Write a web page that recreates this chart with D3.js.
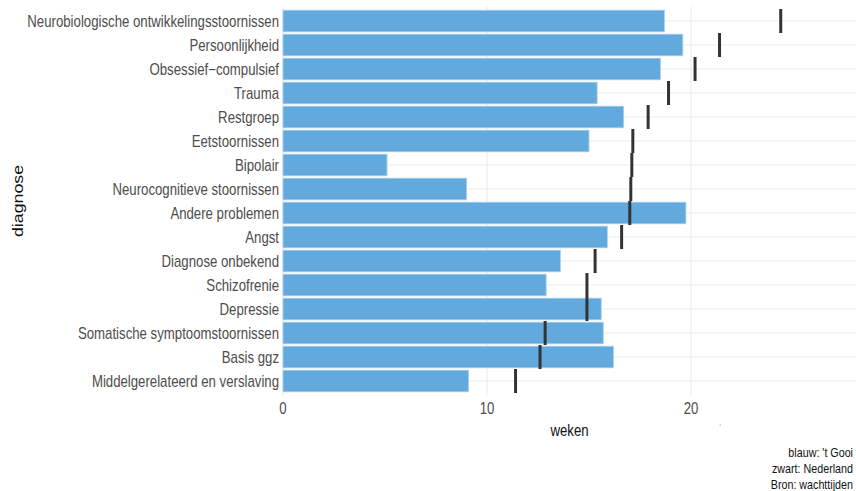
<!DOCTYPE html>
<html>
<head>
<meta charset="utf-8">
<script src="https://cdn.jsdelivr.net/npm/d3@7"></script>
<style>
  body { margin: 0; background: #fff; }
  text { font-family: "Liberation Sans", Arial, sans-serif; }
</style>
</head>
<body>
<svg width="856" height="491"></svg>
<script>
// categories, top to bottom
var diagnoses = ["Neurobiologische ontwikkelingsstoornissen", "Persoonlijkheid", "Obsessief\u2212compulsief",
  "Trauma", "Restgroep", "Eetstoornissen", "Bipolair", "Neurocognitieve stoornissen",
  "Andere problemen", "Angst", "Diagnose onbekend", "Schizofrenie", "Depressie",
  "Somatische symptoomstoornissen", "Basis ggz", "Middelgerelateerd en verslaving"];

// wachttijd in weken, blauw: 't Gooi
var gooi = [18.7, 19.6, 18.5, 15.4, 16.7, 15.0, 5.1, 9.0, 19.75, 15.9, 13.6, 12.9, 15.6, 15.7, 16.2, 9.1];
// zwart: Nederland
var nederland = [24.4, 21.4, 20.2, 18.9, 17.9, 17.15, 17.1, 17.05, 17.0, 16.6, 15.3, 14.9, 14.9, 12.85, 12.6, 11.4];

var xTicks = [0, 10, 20];
var captionLines = ["blauw: 't Gooi", "zwart: Nederland", "Bron: wachttijden"];

var data = diagnoses.map(function(d, i) {
  return {name: d, gooi: gooi[i], nl: nederland[i]};
});

var svg = d3.select("svg"),
    panel = {left: 283, right: 856, top: 6.6, bottom: 395.4};

var x = d3.scaleLinear().domain([0, 28.09]).range([panel.left, panel.right]);

// discrete scale, 0.6 step expansion at each end
var y = d3.scaleBand().domain(diagnoses)
    .range([panel.top, panel.bottom])
    .paddingOuter(0.1).paddingInner(0);
var step = y.step();

// gridlines
var grid = svg.append("g").attr("class", "grid");
grid.selectAll(".hgrid")
    .data(diagnoses)
    .enter().append("line")
    .attr("x1", panel.left).attr("x2", panel.right)
    .attr("y1", function(d) { return y(d) + step / 2; })
    .attr("y2", function(d) { return y(d) + step / 2; })
    .style("stroke", "#ebebeb").style("stroke-width", 1.1);
grid.selectAll(".vgrid")
    .data(xTicks)
    .enter().append("line")
    .attr("x1", function(d) { return x(d); }).attr("x2", function(d) { return x(d); })
    .attr("y1", panel.top).attr("y2", panel.bottom)
    .style("stroke", "#ebebeb").style("stroke-width", 1.1);

// bars 't Gooi
svg.append("g").selectAll("rect")
    .data(data)
    .enter().append("rect")
    .attr("x", x(0))
    .attr("y", function(d) { return y(d.name) + step * 0.05; })
    .attr("width", function(d) { return x(d.gooi) - x(0); })
    .attr("height", step * 0.9)
    .style("fill", "#62aadd")
    .style("stroke", "#a8d0ee")
    .style("stroke-width", 0.8);

// Nederland marks
svg.append("g").selectAll("line")
    .data(data)
    .enter().append("line")
    .attr("x1", function(d) { return x(d.nl); })
    .attr("x2", function(d) { return x(d.nl); })
    .attr("y1", function(d) { return y(d.name); })
    .attr("y2", function(d) { return y(d.name) + step; })
    .style("stroke", "#333333")
    .style("stroke-width", 3);

// no narrow font installed: squeeze the text horizontally
var narrow = 0.8;
function squeeze(sel, xf, yf) {
  sel.attr("transform", function(d, i) {
    return "translate(" + xf(d, i) + "," + yf(d, i) + ") scale(" + narrow + ",1)";
  });
}

// y axis labels
var ylab = svg.append("g").selectAll("text")
    .data(diagnoses)
    .enter().append("text")
    .attr("dy", "0.35em")
    .attr("text-anchor", "end")
    .style("font-size", "16px")
    .style("fill", "#4d4d4d")
    .text(function(d) { return d; });
// fit longest label to the reference width
var longest = d3.max(ylab.nodes(), function(n) { return n.getComputedTextLength(); });
narrow = 252 / longest;
squeeze(ylab, function() { return panel.left - 4; }, function(d) { return y(d) + step / 2; });

// x axis labels
var xlab = svg.append("g").selectAll("text")
    .data(xTicks)
    .enter().append("text")
    .attr("text-anchor", "middle")
    .style("font-size", "16px")
    .style("fill", "#4d4d4d")
    .text(function(d) { return d; });
squeeze(xlab, function(d) { return x(d); }, function() { return 414; });

// axis titles
svg.append("text")
    .attr("transform", "translate(" + ((panel.left + panel.right) / 2) + ",436) scale(" + narrow + ",1)")
    .attr("text-anchor", "middle")
    .style("font-size", "16px")
    .style("fill", "#111")
    .text("weken");

svg.append("text")
    .attr("transform", "translate(23," + ((panel.top + panel.bottom) / 2) + ") rotate(-90)")
    .attr("text-anchor", "middle")
    .attr("textLength", 72)
    .attr("lengthAdjust", "spacingAndGlyphs")
    .style("font-size", "15px")
    .style("fill", "#111")
    .text("diagnose");

// small leftover legend key
svg.append("text")
    .attr("x", 720).attr("y", 430)
    .attr("text-anchor", "middle")
    .style("font-size", "9px")
    .style("fill", "#bbb")
    .text("'");

// caption
var cap = svg.append("g").selectAll("text")
    .data(captionLines)
    .enter().append("text")
    .attr("text-anchor", "end")
    .style("font-size", "13px")
    .style("fill", "#111")
    .text(function(d) { return d; });
squeeze(cap, function() { return 853; }, function(d, i) { return 457 + i * 16; });
</script>
</body>
</html>
